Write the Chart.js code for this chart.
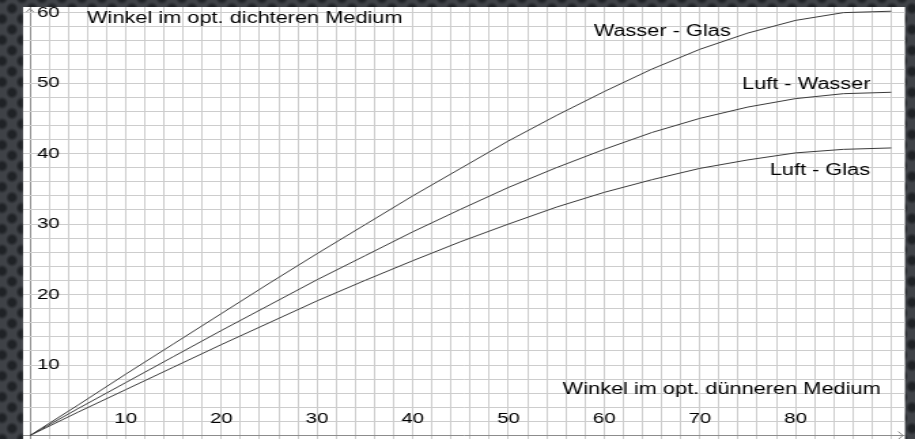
<!DOCTYPE html>
<html>
<head>
<meta charset="utf-8">
<script src="https://cdn.jsdelivr.net/npm/chart.js@4/dist/chart.umd.min.js"></script>
<style>
  html, body { margin: 0; padding: 0; width: 915px; height: 439px; overflow: hidden; }
  body {
    background-color: #3f4247;
    background-image:
      radial-gradient(circle at center, #1f2226 0, #1f2226 3px, rgba(31,34,38,0) 6.5px),
      radial-gradient(circle at center, #1f2226 0, #1f2226 3px, rgba(31,34,38,0) 6.5px);
    background-size: 20px 21px, 20px 21px;
    background-position: 2px -2px, 12px 8.5px;
  }
  #wrap { position: absolute; left: 0; top: 0; width: 673px; height: 439px;
          transform: scaleX(1.3596); transform-origin: 0 0; }
  canvas { display: block; }
</style>
</head>
<body>
<div id="wrap"><canvas id="c" width="673" height="439"></canvas></div>
<script>
// ---- data ----
const angles      = [0, 5, 10, 15, 20, 25, 30, 35, 40, 45, 50, 55, 60, 65, 70, 75, 80, 85, 90];
const wasserGlas  = [0, 4.3, 8.7, 13.0, 17.3, 21.6, 25.8, 29.9, 34.0, 37.9, 41.8, 45.4, 48.8, 52.0, 54.8, 57.1, 58.9, 60.0, 60.2];
const luftWasser  = [0, 3.8, 7.5, 11.2, 14.9, 18.5, 22.1, 25.5, 28.9, 32.1, 35.2, 38.0, 40.6, 43.0, 45.0, 46.6, 47.8, 48.5, 48.7];
const luftGlas    = [0, 3.3, 6.5, 9.7, 12.9, 16.0, 19.1, 22.0, 24.8, 27.5, 30.0, 32.4, 34.5, 36.3, 37.9, 39.1, 40.1, 40.6, 40.8];
const xTickLabels = [10, 20, 30, 40, 50, 60, 70, 80];
const yTickLabels = [10, 20, 30, 40, 50, 60];
const seriesNames = ['Wasser - Glas', 'Luft - Wasser', 'Luft - Glas'];
const axisTitleY  = 'Winkel im opt. dichteren Medium';
const axisTitleX  = 'Winkel im opt. dünneren Medium';

// text anchors in data units (layout only)
const textAnchors = [
  {text: axisTitleY,     x: 5.96,  y: 59.1},
  {text: axisTitleX,     x: 55.66, y: 6.45},
  {text: seriesNames[0], x: 58.9,  y: 57.3},
  {text: seriesNames[1], x: 74.4,  y: 49.8},
  {text: seriesNames[2], x: 77.3,  y: 37.6}
];

const FONT = '"Liberation Sans", Arial, Helvetica, sans-serif';
const toXY = arr => arr.map((v, i) => ({x: angles[i], y: v}));

const paperPlugin = {
  id: 'paper',
  beforeDraw(chart) {
    const {ctx, chartArea: a} = chart;
    ctx.save();
    ctx.fillStyle = '#ffffff';
    ctx.fillRect(a.left, a.top, a.right - a.left, a.bottom - a.top);
    ctx.restore();
  },
  afterDraw(chart) {
    const {ctx, scales: {x, y}} = chart;
    ctx.save();
    ctx.fillStyle = '#000000';
    ctx.font = '16px ' + FONT;
    ctx.textAlign = 'left';
    ctx.textBaseline = 'middle';
    textAnchors.forEach(t => ctx.fillText(t.text, x.getPixelForValue(t.x), y.getPixelForValue(t.y)));
    // axis arrows
    ctx.strokeStyle = '#8c8c8c';
    ctx.lineWidth = 1;
    const x0 = x.getPixelForValue(0), y0 = y.getPixelForValue(0);
    const top = chart.chartArea.top + 1.5, right = chart.chartArea.right - 1.5;
    ctx.beginPath();
    ctx.moveTo(x0 - 2.6, top + 3.5); ctx.lineTo(x0, top); ctx.lineTo(x0 + 2.6, top + 3.5);
    ctx.moveTo(right - 3.5, y0 - 4); ctx.lineTo(right, y0); ctx.lineTo(right - 3.5, y0 + 4);
    ctx.stroke();
    ctx.restore();
  }
};

const gridColor = ctx => (ctx.tick && ctx.tick.value === 0) ? '#8c8c8c' : '#cdcdcd';
const zeroFit = size => s => {
  s[size] = 0;
  s.paddingTop = 0; s.paddingBottom = 0; s.paddingLeft = 0; s.paddingRight = 0;
};

new Chart(document.getElementById('c'), {
  type: 'line',
  data: {
    datasets: [
      {label: seriesNames[0], data: toXY(wasserGlas)},
      {label: seriesNames[1], data: toXY(luftWasser)},
      {label: seriesNames[2], data: toXY(luftGlas)}
    ].map(d => Object.assign(d, {borderColor: '#3c3c3c', borderWidth: 1, pointRadius: 0, tension: 0, fill: false}))
  },
  options: {
    responsive: false,
    animation: false,
    devicePixelRatio: 1,
    layout: {padding: {left: 16.92, right: 7.4, top: 7, bottom: 0}},
    plugins: {legend: {display: false}, tooltip: {enabled: false}},
    scales: {
      x: {
        type: 'linear', position: 'bottom', min: -0.73, max: 91.43,
        border: {display: false},
        grid: {color: gridColor, lineWidth: 1, drawTicks: false},
        afterFit: zeroFit('height'),
        ticks: {
          stepSize: 2, includeBounds: false, autoSkip: false, maxRotation: 0, minRotation: 0,
          mirror: true, padding: 11, color: '#000', font: {family: FONT, size: 15},
          callback: v => xTickLabels.includes(v) ? String(v) : ''
        }
      },
      y: {
        type: 'linear', position: 'left', min: -0.5, max: 60.8,
        border: {display: false},
        grid: {color: gridColor, lineWidth: 1, drawTicks: false},
        afterFit: zeroFit('width'),
        ticks: {
          stepSize: 2, includeBounds: false, autoSkip: false,
          mirror: true, padding: 10.3, color: '#000', font: {family: FONT, size: 15},
          callback: v => yTickLabels.includes(v) ? String(v) : ''
        }
      }
    }
  },
  plugins: [paperPlugin]
});
</script>
</body>
</html>
